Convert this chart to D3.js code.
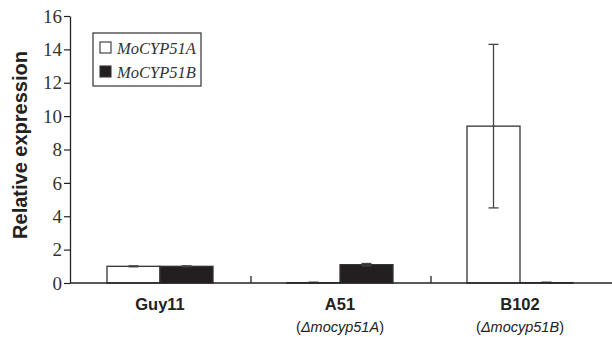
<!DOCTYPE html>
<html>
<head>
<meta charset="utf-8">
<script src="https://cdn.jsdelivr.net/npm/d3@7"></script>
<style>
  body { margin: 0; background: #fff; }
  svg { display: block; }
</style>
</head>
<body>
<script>
// data
var strains = ["Guy11", "A51", "B102"];
var subLabels = ["", "Δmocyp51A", "Δmocyp51B"];
var genes = ["MoCYP51A", "MoCYP51B"];
var valuesA = [1.0, 0.02, 9.4];
var errorsA = [0.03, 0.03, 4.9];
var valuesB = [1.0, 1.1, 0.02];
var errorsB = [0.03, 0.07, 0.03];
var yTicks = [0, 2, 4, 6, 8, 10, 12, 14, 16];

var w = 612, h = 337;
var ink = "#231f20";

var svg = d3.select("body").append("svg")
  .attr("width", w)
  .attr("height", h);

var x = d3.scaleBand().domain(strains).range([70, 610]).padding(0);
var y = d3.scaleLinear().domain([0, 16]).range([283, 16]);
var barW = 53;

// one row per bar
var bars = [];
strains.forEach(function(s, i) {
  bars.push({ strain: s, gene: 0, v: valuesA[i], e: errorsA[i] });
  bars.push({ strain: s, gene: 1, v: valuesB[i], e: errorsB[i] });
});

function barX(d) {
  return x(d.strain) + x.bandwidth() / 2 + (d.gene === 0 ? -barW : 0);
}

// error bar stems
var eb = svg.append("g").attr("stroke", "#444").attr("stroke-width", 1.3);
eb.selectAll("line")
  .data(bars)
  .enter().append("line")
  .attr("x1", function(d) { return barX(d) + barW / 2; })
  .attr("x2", function(d) { return barX(d) + barW / 2; })
  .attr("y1", function(d) { return y(Math.max(0, d.v - d.e)); })
  .attr("y2", function(d) { return y(d.v + d.e); });

svg.selectAll("rect.bar")
  .data(bars)
  .enter().append("rect")
  .attr("class", "bar")
  .attr("x", barX)
  .attr("y", function(d) { return y(d.v); })
  .attr("width", barW)
  .attr("height", function(d) { return y(0) - y(d.v); })
  .attr("fill", function(d) { return d.gene === 0 ? "none" : ink; })
  .attr("stroke", "#333")
  .attr("stroke-width", 1.3);

// caps
var caps = svg.append("g").attr("stroke", "#444").attr("stroke-width", 1.3);
bars.forEach(function(d) {
  var cx = barX(d) + barW / 2;
  [d.v + d.e, Math.max(0, d.v - d.e)].forEach(function(val) {
    caps.append("line")
      .attr("x1", cx - 5).attr("x2", cx + 5)
      .attr("y1", y(val)).attr("y2", y(val));
  });
});

// y axis (lines from d3, labels drawn separately in serif)
var yAxis = svg.append("g")
  .attr("transform", "translate(70,0)")
  .call(d3.axisLeft(y).tickValues(yTicks).tickSize(6).tickSizeOuter(0).tickFormat(""));
yAxis.select(".domain").attr("stroke", "#222").attr("stroke-width", 1.3);
yAxis.selectAll(".tick line").attr("stroke", "#222").attr("stroke-width", 1.2);

svg.append("g").selectAll("text")
  .data(yTicks)
  .enter().append("text")
  .attr("x", 62)
  .attr("y", function(d) { return y(d); })
  .attr("dy", "0.35em")
  .attr("text-anchor", "end")
  .style("font-family", "'Liberation Serif', 'DejaVu Serif', serif")
  .style("font-size", "19px")
  .attr("fill", "#333")
  .text(function(d) { return d; });

// x axis line with separators between categories
svg.append("line")
  .attr("x1", 70).attr("x2", 612)
  .attr("y1", y(0)).attr("y2", y(0))
  .attr("stroke", "#222").attr("stroke-width", 1.5);
svg.selectAll("line.sep")
  .data(strains.slice(1))
  .enter().append("line")
  .attr("x1", function(d) { return x(d) + 1; })
  .attr("x2", function(d) { return x(d) + 1; })
  .attr("y1", y(0)).attr("y2", y(0) - 7)
  .attr("stroke", "#222").attr("stroke-width", 1.3);

// category labels
svg.selectAll("text.cat")
  .data(strains)
  .enter().append("text")
  .attr("x", function(d) { return x(d) + x.bandwidth() / 2; })
  .attr("y", 310)
  .attr("text-anchor", "middle")
  .style("font-family", "'Liberation Sans', Arial, sans-serif")
  .style("font-weight", "bold")
  .style("font-size", "16.5px")
  .attr("fill", "#222")
  .text(function(d) { return d; });

var sub = svg.selectAll("text.sub")
  .data(strains.map(function(s, i) { return { s: s, t: subLabels[i] }; }).filter(function(d) { return d.t; }))
  .enter().append("text")
  .attr("x", function(d) { return x(d.s) + x.bandwidth() / 2; })
  .attr("y", 332)
  .attr("text-anchor", "middle")
  .style("font-family", "'Liberation Sans', Arial, sans-serif")
  .style("font-size", "14.5px")
  .attr("fill", "#222");
sub.append("tspan").text("(");
sub.append("tspan").style("font-style", "italic").text(function(d) { return d.t; });
sub.append("tspan").text(")");

// y label
svg.append("text")
  .attr("transform", "translate(27,145) rotate(-90)")
  .attr("text-anchor", "middle")
  .style("font-family", "'Liberation Sans', Arial, sans-serif")
  .style("font-weight", "bold")
  .style("font-size", "20px")
  .attr("fill", "#222")
  .text("Relative expression");

// legend
var lg = svg.append("g");
lg.append("rect")
  .attr("x", 93).attr("y", 33).attr("width", 108).attr("height", 53)
  .attr("fill", "#fff").attr("stroke", "#333").attr("stroke-width", 1.2);
var items = lg.selectAll("g.item")
  .data(genes)
  .enter().append("g")
  .attr("transform", function(d, i) { return "translate(100," + (42 + i * 24) + ")"; });
items.append("rect")
  .attr("width", 11).attr("height", 11)
  .attr("fill", function(d, i) { return i === 0 ? "#fff" : ink; })
  .attr("stroke", "#333").attr("stroke-width", 1.1);
items.append("text")
  .attr("x", 17).attr("y", 12)
  .style("font-family", "'Liberation Serif', 'DejaVu Serif', serif")
  .style("font-style", "italic")
  .style("font-size", "16.5px")
  .attr("fill", "#333")
  .text(function(d) { return d; });
</script>
</body>
</html>
